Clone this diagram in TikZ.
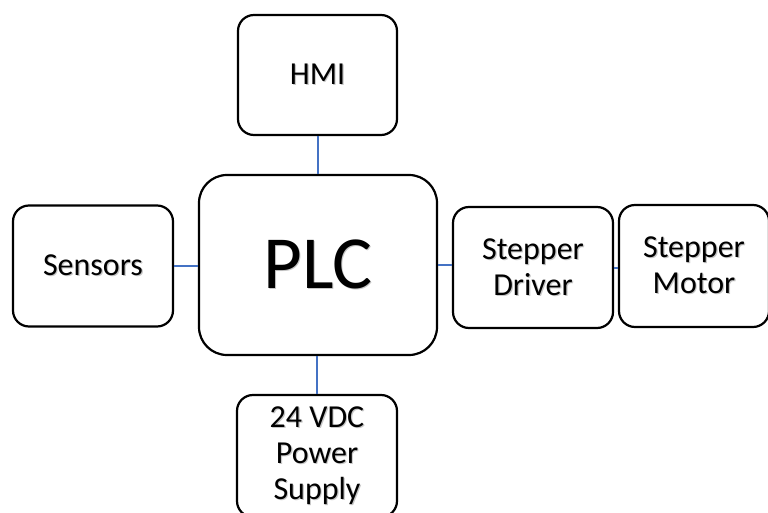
\documentclass[tikz,border=0pt]{standalone}
\usepackage{fontspec}
\setmainfont{Carlito}
\definecolor{linkblue}{HTML}{4472C4}
\newcommand\shd[1]{\leavevmode\rlap{\hspace{1.2pt}\raisebox{-1.4pt}{\color{black!22}#1}}#1}
\tikzset{
  blk/.style={draw=black, line width=2.2pt, rounded corners=16pt, fill=white,
    inner sep=0pt, align=center, font=\fontsize{32}{36}\selectfont},
  link/.style={draw=linkblue, line width=2pt}
}
\begin{document}
\begin{tikzpicture}[x=1pt,y=-1pt]
\useasboundingbox (0,0) rectangle (768,513);
\clip (0,0) rectangle (768,513);
\node[blk, minimum width=159pt, minimum height=120pt] (hmi) at (317.5,75) {\shd{HMI}};
\node[blk, rounded corners=28pt, minimum width=238pt, minimum height=180pt,
      font=\fontsize{75}{80}\selectfont] (plc) at (318,265) {\shd{PLC}};
\node[blk, minimum width=160pt, minimum height=121pt] (sen) at (93,266) {\shd{Sensors}};
\node[blk, minimum width=160pt, minimum height=121pt] (drv) at (533,267.5) {\shd{Stepper}\\\shd{Driver}};
\node[blk, minimum width=150pt, minimum height=122pt] (mot) at (694,266) {\shd{Stepper}\\\shd{Motor}};
\node[blk, minimum width=160pt, minimum height=122pt] (psu) at (317,456) {\shd{24 VDC}\\\shd{Power}\\\shd{Supply}};
\draw[link] (hmi.south) -- (hmi.south |- plc.north);
\draw[link] (sen.east) -- (sen.east -| plc.west);
\draw[link] (plc.east) -- (plc.east -| drv.west);
\draw[link] (drv.east) -- (drv.east -| mot.west);
\draw[link] (psu.north) -- (psu.north |- plc.south);
\end{tikzpicture}
\end{document}
